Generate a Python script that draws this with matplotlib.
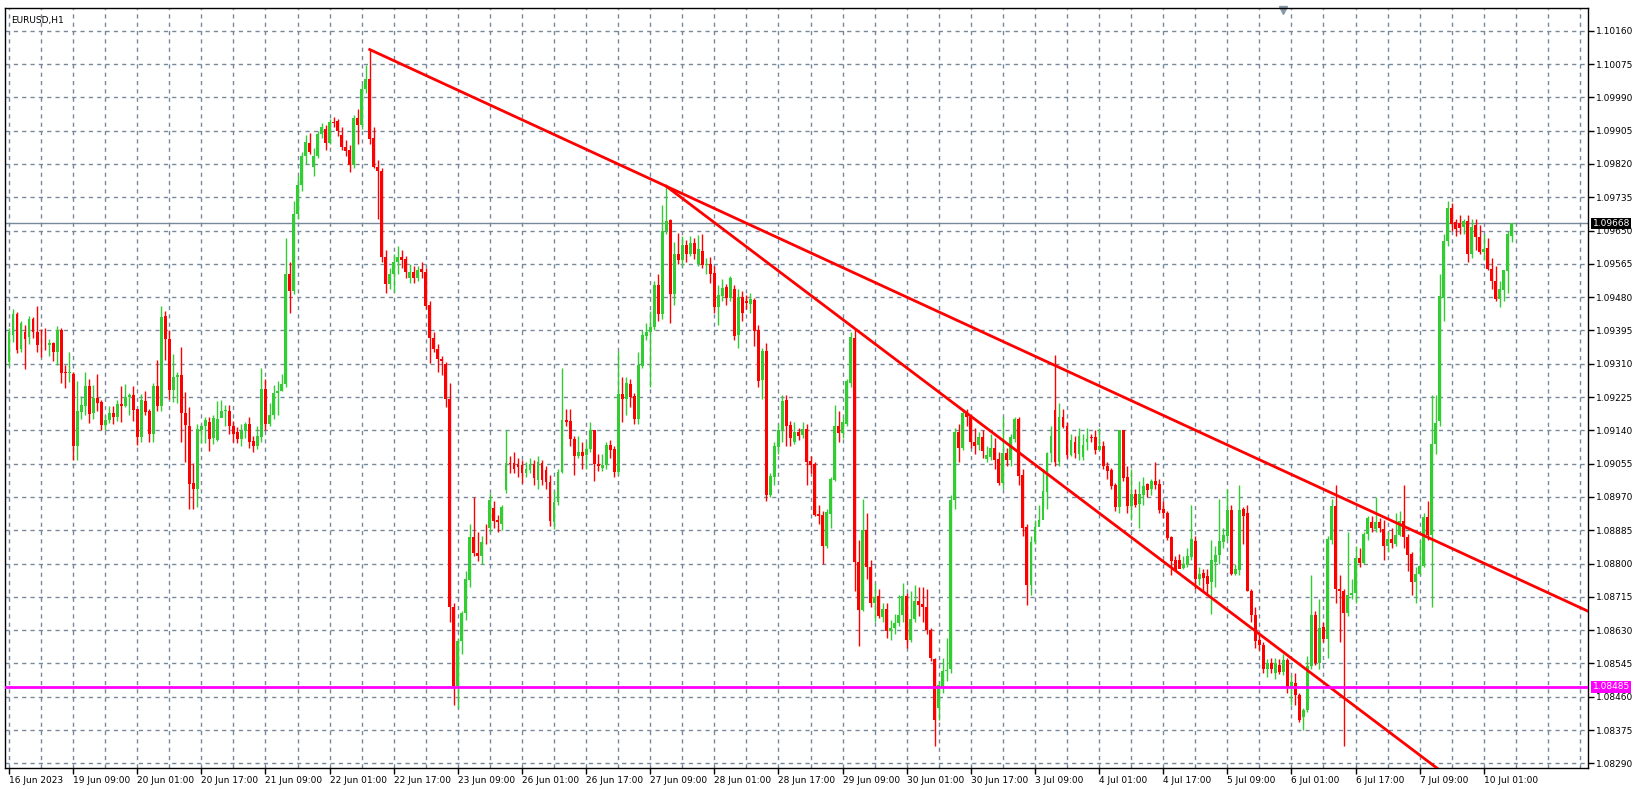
import numpy as np
import matplotlib
matplotlib.use("agg")
import matplotlib.pyplot as plt

# EURUSD H1, prices in points above 1.08000
BASE = 1.08
opens = [1314, 1384, 1437, 1348, 1390, 1378, 1423, 1390, 1359, 1359, 1357, 1362, 1340, 1396, 1289, 1287,
         1284, 1099, 1188, 1203, 1252, 1183, 1223, 1213, 1153, 1167, 1185, 1175, 1206, 1202, 1226, 1231,
         1195, 1123, 1216, 1189, 1130, 1254, 1203, 1433, 1372, 1242, 1277, 1282, 1183, 1152, 1006, 991,
         1140, 1150, 1161, 1121, 1114, 1172, 1190, 1190, 1150, 1135, 1117, 1139, 1156, 1112, 1100, 1123,
         1246, 1155, 1180, 1235, 1241, 1259, 1538, 1496, 1693, 1767, 1839, 1874, 1813, 1839, 1897, 1909,
         1874, 1928, 1930, 1893, 1864, 1855, 1816, 1938, 1919, 2010, 2037, 1887, 1813, 1802, 1583, 1513,
         1540, 1569, 1583, 1577, 1529, 1545, 1529, 1551, 1545, 1459, 1376, 1348, 1323, 1310, 1221, 688,
         487, 602, 674, 757, 867, 826, 818, 884, 890, 941, 911, 900, 987, 1057, 1057, 1055,
         1051, 1030, 1038, 1055, 1013, 1057, 1038, 1007, 907, 958, 1034, 1167, 1163, 1119, 1074, 1085,
         1078, 1093, 1141, 1053, 1044, 1052, 1102, 1093, 1034, 1233, 1220, 1258, 1227, 1168, 1305, 1381,
         1390, 1404, 1510, 1436, 1648, 1678, 1487, 1591, 1576, 1612, 1589, 1619, 1565, 1597, 1562, 1565,
         1541, 1455, 1483, 1507, 1478, 1500, 1384, 1480, 1470, 1463, 1473, 1397, 1268, 1343, 975, 1022,
         1098, 1140, 1217, 1153, 1111, 1136, 1128, 1143, 1062, 1054, 927, 923, 844, 927, 1013, 1151,
         1134, 1156, 1261, 1376, 804, 682, 885, 792, 698, 717, 663, 683, 627, 635, 648, 669,
         717, 604, 658, 705, 696, 690, 629, 556, 430, 483, 525, 531, 961, 1136, 1094, 1183,
         1175, 1111, 1103, 1122, 1067, 1073, 1095, 1067, 1006, 1082, 1065, 1118, 1170, 1027, 894, 746,
         856, 892, 911, 983, 1082, 1192, 1059, 1175, 1152, 1077, 1111, 1080, 1071, 1111, 1124, 1122,
         1091, 1101, 1050, 1038, 1000, 943, 1141, 1021, 947, 978, 953, 974, 1004, 991, 1010, 1004,
         938, 930, 868, 809, 809, 788, 797, 816, 858, 761, 775, 767, 752, 805, 821, 856,
         870, 936, 772, 783, 938, 929, 731, 668, 604, 593, 530, 547, 521, 540, 524, 554,
         482, 495, 464, 407, 425, 538, 668, 547, 637, 608, 859, 947, 735, 731, 674, 720,
         724, 815, 802, 875, 905, 888, 907, 888, 844, 863, 851, 873, 908, 868, 825, 752,
         772, 794, 918, 873, 1106, 1163, 1479, 1622, 1707, 1671, 1668, 1659, 1674, 1590, 1663, 1634,
         1595, 1606, 1553, 1521, 1475, 1498, 1547, 1636]
closes = [1391, 1437, 1346, 1414, 1373, 1423, 1390, 1359, 1357, 1357, 1362, 1340, 1396, 1287, 1287, 1289,
          1099, 1189, 1205, 1254, 1181, 1223, 1210, 1153, 1167, 1185, 1175, 1208, 1202, 1226, 1229, 1193,
          1124, 1218, 1188, 1130, 1254, 1203, 1430, 1372, 1242, 1277, 1282, 1183, 1154, 1004, 991, 1144,
          1150, 1167, 1119, 1171, 1170, 1190, 1192, 1150, 1131, 1117, 1139, 1156, 1110, 1100, 1125, 1246,
          1155, 1180, 1235, 1241, 1259, 1538, 1496, 1693, 1767, 1841, 1876, 1850, 1841, 1897, 1913, 1874,
          1928, 1925, 1903, 1864, 1853, 1816, 1938, 1919, 2012, 2037, 1884, 1813, 1802, 1583, 1513, 1540,
          1569, 1583, 1574, 1545, 1545, 1529, 1549, 1543, 1457, 1376, 1348, 1323, 1316, 1221, 688, 487,
          602, 674, 760, 867, 826, 818, 856, 882, 962, 908, 905, 945, 1057, 1055, 1042, 1046,
          1030, 1040, 1055, 1017, 1059, 1013, 1008, 908, 958, 1034, 1167, 1161, 1117, 1074, 1085, 1074,
          1093, 1141, 1053, 1048, 1052, 1103, 1089, 1034, 1233, 1220, 1261, 1224, 1168, 1307, 1383, 1390,
          1404, 1510, 1436, 1650, 1675, 1487, 1591, 1576, 1612, 1589, 1619, 1589, 1602, 1563, 1565, 1538,
          1455, 1485, 1502, 1478, 1528, 1380, 1480, 1440, 1466, 1475, 1394, 1266, 1343, 975, 1024, 1101,
          1140, 1215, 1151, 1120, 1136, 1126, 1143, 1060, 1051, 924, 920, 844, 931, 1016, 1151, 1134,
          1160, 1266, 1378, 804, 682, 885, 792, 698, 715, 665, 683, 627, 635, 648, 669, 717,
          605, 658, 705, 694, 690, 629, 559, 400, 489, 525, 529, 963, 1136, 1094, 1183, 1173,
          1109, 1101, 1122, 1088, 1076, 1095, 1065, 1006, 1082, 1065, 1122, 1170, 1023, 891, 746, 856,
          894, 912, 984, 1082, 1126, 1059, 1175, 1148, 1077, 1115, 1082, 1126, 1103, 1118, 1120, 1091,
          1101, 1048, 1035, 998, 943, 1141, 1019, 946, 978, 950, 977, 998, 988, 1010, 1001, 936,
          929, 866, 807, 784, 786, 799, 818, 862, 761, 774, 763, 747, 809, 822, 857, 872,
          936, 774, 787, 936, 920, 731, 668, 602, 591, 530, 547, 530, 547, 524, 554, 486,
          497, 464, 400, 425, 538, 668, 547, 636, 608, 863, 947, 735, 731, 674, 720, 724,
          815, 802, 876, 917, 890, 907, 890, 844, 863, 853, 873, 908, 868, 821, 752, 772,
          794, 918, 874, 1106, 1159, 1482, 1623, 1707, 1667, 1653, 1657, 1674, 1590, 1659, 1633, 1595,
          1602, 1553, 1521, 1475, 1500, 1548, 1640, 1668]
highs = [1400, 1450, 1442, 1420, 1409, 1431, 1430, 1457, 1399, 1401, 1374, 1365, 1407, 1400, 1307, 1341,
         1290, 1267, 1228, 1290, 1270, 1255, 1284, 1218, 1180, 1203, 1203, 1218, 1252, 1257, 1235, 1252,
         1195, 1232, 1241, 1195, 1262, 1320, 1457, 1445, 1395, 1335, 1289, 1352, 1237, 1200, 1057, 1155,
         1155, 1175, 1174, 1178, 1215, 1218, 1205, 1204, 1164, 1149, 1155, 1160, 1175, 1125, 1150, 1300,
         1270, 1210, 1255, 1265, 1285, 1630, 1570, 1725, 1790, 1850, 1895, 1900, 1860, 1905, 1925, 1920,
         1935, 1940, 1935, 1913, 1880, 1868, 1945, 1960, 2025, 2072, 2112, 1915, 1830, 1810, 1600, 1555,
         1590, 1610, 1600, 1585, 1565, 1560, 1560, 1570, 1555, 1470, 1390, 1360, 1330, 1315, 1260, 700,
         610, 680, 780, 900, 970, 880, 870, 900, 980, 960, 925, 950, 1140, 1075, 1085, 1070,
         1065, 1060, 1070, 1065, 1075, 1065, 1050, 1025, 985, 1040, 1300, 1195, 1195, 1125, 1125, 1110,
         1110, 1160, 1140, 1080, 1080, 1110, 1115, 1100, 1343, 1275, 1275, 1270, 1235, 1340, 1395, 1415,
         1445, 1520, 1540, 1716, 1763, 1680, 1620, 1643, 1635, 1625, 1635, 1630, 1638, 1640, 1580, 1582,
         1560, 1510, 1525, 1513, 1535, 1510, 1500, 1495, 1485, 1490, 1478, 1410, 1350, 1362, 1030, 1110,
         1155, 1230, 1230, 1165, 1160, 1145, 1160, 1155, 1075, 1060, 950, 935, 940, 1020, 1205, 1190,
         1175, 1270, 1390, 1400, 860, 965, 930, 810, 750, 735, 700, 700, 655, 670, 720, 750,
         725, 730, 745, 740, 740, 735, 635, 560, 500, 560, 610, 975, 1145, 1155, 1195, 1195,
         1180, 1145, 1135, 1140, 1100, 1130, 1120, 1085, 1175, 1095, 1130, 1175, 1175, 1040, 900, 870,
         910, 950, 1040, 1085, 1150, 1331, 1210, 1195, 1160, 1130, 1125, 1145, 1130, 1145, 1130, 1140,
         1145, 1112, 1060, 1045, 1005, 1141, 1141, 1050, 1040, 990, 1010, 1020, 1005, 1015, 1060, 1015,
         960, 935, 870, 820, 825, 820, 840, 950, 870, 790, 785, 785, 860, 845, 965, 890,
         990, 950, 800, 1000, 945, 950, 735, 690, 620, 600, 556, 558, 560, 556, 570, 560,
         515, 520, 470, 430, 565, 770, 680, 710, 650, 870, 965, 1000, 770, 735, 880, 760,
         845, 840, 880, 920, 920, 970, 915, 910, 880, 890, 930, 935, 1000, 875, 830, 790,
         860, 930, 960, 1230, 1230, 1540, 1640, 1726, 1720, 1680, 1690, 1680, 1690, 1680, 1680, 1665,
         1640, 1630, 1580, 1560, 1520, 1545, 1650, 1670]
lows = [1305, 1365, 1338, 1340, 1296, 1360, 1376, 1340, 1328, 1346, 1330, 1316, 1307, 1262, 1247, 1264,
        1063, 1063, 1168, 1180, 1158, 1170, 1190, 1140, 1140, 1158, 1156, 1163, 1161, 1199, 1178, 1163,
        1103, 1110, 1180, 1110, 1109, 1190, 1190, 1320, 1220, 1212, 1210, 1111, 1060, 940, 940, 944,
        1108, 1107, 1088, 1106, 1113, 1180, 1150, 1131, 1109, 1108, 1100, 1120, 1094, 1085, 1092, 1110,
        1140, 1150, 1170, 1180, 1240, 1250, 1440, 1488, 1680, 1750, 1820, 1845, 1790, 1835, 1885, 1855,
        1870, 1915, 1890, 1855, 1840, 1800, 1810, 1870, 1910, 2000, 1870, 1810, 1680, 1570, 1490, 1500,
        1492, 1540, 1555, 1530, 1515, 1515, 1520, 1530, 1450, 1312, 1340, 1290, 1280, 1200, 650, 440,
        432, 570, 655, 740, 820, 806, 800, 850, 880, 890, 880, 885, 980, 1030, 1030, 1020,
        1005, 1020, 1030, 1000, 990, 1000, 990, 895, 888, 950, 1030, 1150, 1100, 1025, 1070, 1040,
        1040, 1085, 1010, 1035, 1035, 1040, 1070, 1020, 1025, 1160, 1180, 1200, 1155, 1155, 1300, 1370,
        1250, 1395, 1420, 1425, 1640, 1415, 1460, 1565, 1560, 1570, 1585, 1578, 1560, 1555, 1540, 1515,
        1440, 1410, 1470, 1460, 1470, 1370, 1350, 1420, 1450, 1440, 1355, 1250, 1220, 960, 970, 1000,
        1080, 1110, 1100, 1100, 1105, 1115, 1120, 1000, 1030, 920, 900, 800, 840, 890, 1010, 1110,
        1120, 1150, 1250, 730, 590, 680, 760, 690, 650, 660, 650, 610, 605, 620, 640, 650,
        585, 600, 650, 665, 650, 620, 550, 335, 400, 470, 500, 520, 940, 1060, 1090, 1150,
        1095, 1080, 1090, 1070, 1060, 1065, 1040, 1000, 990, 1050, 1050, 1110, 1000, 870, 695, 720,
        850, 900, 945, 940, 1060, 1050, 1050, 1145, 1070, 1075, 1070, 1065, 1065, 1090, 1110, 1080,
        1090, 1040, 1015, 990, 935, 930, 1010, 930, 910, 945, 890, 950, 970, 975, 990, 930,
        915, 860, 770, 780, 790, 785, 790, 810, 735, 745, 730, 720, 670, 740, 800, 840,
        860, 770, 770, 770, 850, 730, 650, 585, 580, 520, 510, 520, 505, 518, 515, 470,
        440, 440, 395, 375, 420, 530, 540, 530, 600, 560, 850, 700, 600, 335, 665, 710,
        700, 790, 800, 860, 880, 880, 880, 810, 830, 840, 845, 870, 840, 780, 720, 700,
        770, 790, 860, 690, 1080, 1150, 1420, 1610, 1650, 1635, 1640, 1640, 1570, 1580, 1600, 1590,
        1575, 1550, 1500, 1470, 1455, 1470, 1490, 1620]

time_labels = ["16 Jun 2023", "19 Jun 09:00", "20 Jun 01:00", "20 Jun 17:00", "21 Jun 09:00",
               "22 Jun 01:00", "22 Jun 17:00", "23 Jun 09:00", "26 Jun 01:00", "26 Jun 17:00",
               "27 Jun 09:00", "28 Jun 01:00", "28 Jun 17:00", "29 Jun 09:00", "30 Jun 01:00",
               "30 Jun 17:00", "3 Jul 09:00", "4 Jul 01:00", "4 Jul 17:00", "5 Jul 09:00",
               "6 Jul 01:00", "6 Jul 17:00", "7 Jul 09:00", "10 Jul 01:00"]
price_ticks = [1.08290 + 0.00085 * k for k in range(23)]

# trendlines: (bar, points) anchors
trend_a = [(90, 2112), (164, 1763)]
trend_b = [(164, 1763), (211, 1400)]
support_level = 1.08485
last_price = 1.09668

UP, DOWN = "#32cd32", "#ff0000"
GRIDC = "#778899"


def main():
    o = BASE + np.array(opens) / 1e5
    c = BASE + np.array(closes) / 1e5
    h = BASE + np.array(highs) / 1e5
    lo = BASE + np.array(lows) / 1e5
    x = np.arange(len(o))
    col = np.where(c >= o, UP, DOWN)

    fig = plt.figure(figsize=(16.46, 7.89), dpi=100)
    ax = fig.add_axes([5 / 1646, 21 / 789, 1583 / 1646, 760 / 789])
    xmin, xmax = -1, 394
    ax.set_xlim(xmin, xmax)
    ax.set_ylim(1.08278, 1.10218)

    ax.vlines(x, lo, h, colors=col, linewidth=1, zorder=3)
    body = np.maximum(np.abs(c - o), 0.00001)
    ax.bar(x, body, bottom=np.minimum(o, c), width=0.72, color=col, linewidth=0, zorder=4)

    for (x0, p0), (x1, p1) in (trend_a, trend_b):
        slope = (p1 - p0) / (x1 - x0)
        xs = np.array([x0, xmax])
        ax.plot(xs, BASE + (p0 + slope * (xs - x0)) / 1e5, color="#ff0000", lw=2, zorder=5)

    ax.axhline(support_level, color="#ff00ff", lw=2, zorder=5)
    ax.axhline(last_price, color=GRIDC, lw=1, zorder=2)

    # grid
    for gx in np.arange(0, xmax, 8):
        ax.axvline(gx, color=GRIDC, lw=1, ls=(0, (3, 3)), zorder=1)
    for gy in price_ticks:
        ax.axhline(gy, color=GRIDC, lw=1, ls=(0, (3, 3)), zorder=1)

    ax.yaxis.tick_right()
    ax.set_yticks(price_ticks)
    ax.set_yticklabels(["%.5f" % v for v in price_ticks], fontsize=6.5)
    ax.set_xticks(np.arange(len(time_labels)) * 16)
    ax.set_xticklabels(time_labels, fontsize=6.5, ha="left")
    ax.tick_params(length=4, width=1, pad=2)
    for sp in ax.spines.values():
        sp.set_linewidth(1)

    for val, fc in ((last_price, "black"), (support_level, "#ff00ff")):
        ax.text(1.003, val, "%.5f" % val, transform=ax.get_yaxis_transform(), fontsize=6.5,
                color="white", va="center", ha="left", zorder=10,
                bbox=dict(boxstyle="square,pad=0.15", fc=fc, ec="none"))

    ax.text(0.004, 0.99, "EURUSD,H1", transform=ax.transAxes, fontsize=6.5, va="top", ha="left")
    ax.plot([318], [1.10212], marker="v", color="#8a9aa8", ms=6, clip_on=False)

    fig.savefig("out.png", dpi=100)


if __name__ == "__main__":
    main()
